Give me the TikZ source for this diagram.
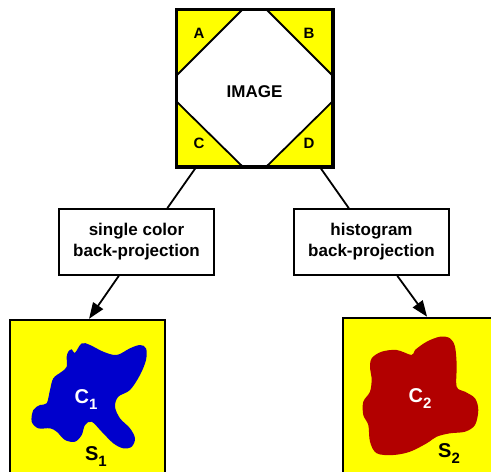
\documentclass[tikz,border=0pt]{standalone}
\usepackage{fontspec}
\setmainfont{Liberation Sans}
\usetikzlibrary{arrows.meta,calc}
\definecolor{yel}{RGB}{255,255,0}
\definecolor{blu}{RGB}{0,0,204}
\definecolor{dred}{RGB}{178,0,0}
\begin{document}
\begin{tikzpicture}[x=1pt,y=-1pt,
  boxnode/.style={draw, line width=1.8pt, fill=white, minimum width=155pt, minimum height=66pt, align=center, inner sep=0pt, font=\bfseries\fontsize{17}{21}\selectfont},
  yelsq/.style={draw, line width=2.5pt, fill=yel, inner sep=0pt},
  conn/.style={line width=1.8pt},
  arr/.style={line width=1.8pt, -{Triangle[length=16pt,width=12pt]}},
  corner/.style={font=\bfseries\fontsize{15}{15}\selectfont},
  big/.style={font=\bfseries\fontsize{20}{20}\selectfont, inner sep=0pt}
]
\useasboundingbox (0,0) rectangle (491,472);
\clip (0,0) rectangle (491,472);
% top square
\node[yelsq, minimum width=155pt, minimum height=156pt] (sq) at (254.5,88) {};
\filldraw[fill=white, line width=1.8pt, line join=miter] (242,10) -- (267,10) -- (332,75) -- (332,102) -- (267,166) -- (242,166) -- (177,102) -- (177,75) -- cycle;
\draw[line width=2.5pt] (sq.north west) rectangle (sq.south east);
\node[corner] (la) at (199,33) {A};
\node[corner] (lb) at (309,33) {B};
\node[corner] (lc) at (199,143) {C};
\node[corner] (ld) at (309,143) {D};
\node[font=\bfseries\fontsize{17}{17}\selectfont] (img) at (254.5,92) {IMAGE};
% boxes
\node[boxnode] (b1) at (136.5,242) {single color\\back-projection};
\node[boxnode] (b2) at (371.5,242) {histogram\\back-projection};
% bottom squares
\node[yelsq, minimum width=155pt, minimum height=160pt] (sq1) at (87.5,400) {};
\node[yelsq, minimum width=157pt, minimum height=162pt] (sq2) at (421.5,399) {};
% blobs
\fill[blu] plot[smooth cycle, tension=0.55] coordinates {
(68.3,351.7) (71.7,349.3) (75,352.7) (81.7,343.3) (90,345) (103.3,351.7) (116.7,355)
(130,348.3) (140,345) (146,348.3) (146,360) (140,375) (130,390) (118.3,396.7)
(115,406.7) (120,418.3) (130,428.3) (135,438.3) (131.7,446.7) (123.3,448.3)
(113.3,443.3) (101.7,431.7) (91.7,421.7) (85,425) (81.7,435) (75,441.7) (65,440)
(56.7,431.7) (50,428.3) (38.3,428.3) (31.7,421.7) (33.3,410) (40,405) (46.7,403.3)
(50,390) (53.3,378.3) (61.7,371.7) (66.7,366.7) (66.7,356.7)};
\fill[dred] plot[smooth cycle, tension=0.55] coordinates {
(371.7,358.3) (381.7,351.7) (396.7,350) (411.7,355) (415,350) (426.7,341.7)
(440,336.7) (450,338.3) (455,346.7) (456.7,365) (456.7,386.7) (465,391.7)
(475,398.3) (478.3,410) (475,425) (465,431.7) (450,433.3) (436.7,436.7)
(426.7,443.3) (410,451.7) (393.3,455) (376.7,453.3) (370,441.7) (368.3,425)
(363.3,415) (363.3,401.7) (370,391.7) (371.7,378.3) (370,368.3)};
\node[big, white] (c1) at (86,400) {C\raisebox{-0.3em}{\fontsize{15}{15}\selectfont 1}};
\node[big] (s1) at (96,457) {S\raisebox{-0.3em}{\fontsize{15}{15}\selectfont 1}};
\node[big, white] (c2) at (420,399) {C\raisebox{-0.3em}{\fontsize{15}{15}\selectfont 2}};
\node[big] (s2) at (449,454) {S\raisebox{-0.3em}{\fontsize{15}{15}\selectfont 2}};
% connectors
\draw[conn] ($(sq.south west)!0.129!(sq.south east)$) -- ($(b1.north west)!0.697!(b1.north east)$);
\draw[conn] ($(sq.south west)!0.916!(sq.south east)$) -- ($(b2.north west)!0.355!(b2.north east)$);
\draw[arr] ($(b1.south west)!0.387!(b1.south east)$) -- ($(sq1.north west)!0.51!(sq1.north east)$);
\draw[arr] ($(b2.south west)!0.665!(b2.south east)$) -- ($(sq2.north west)!0.535!(sq2.north east)$);
\end{tikzpicture}
\end{document}
